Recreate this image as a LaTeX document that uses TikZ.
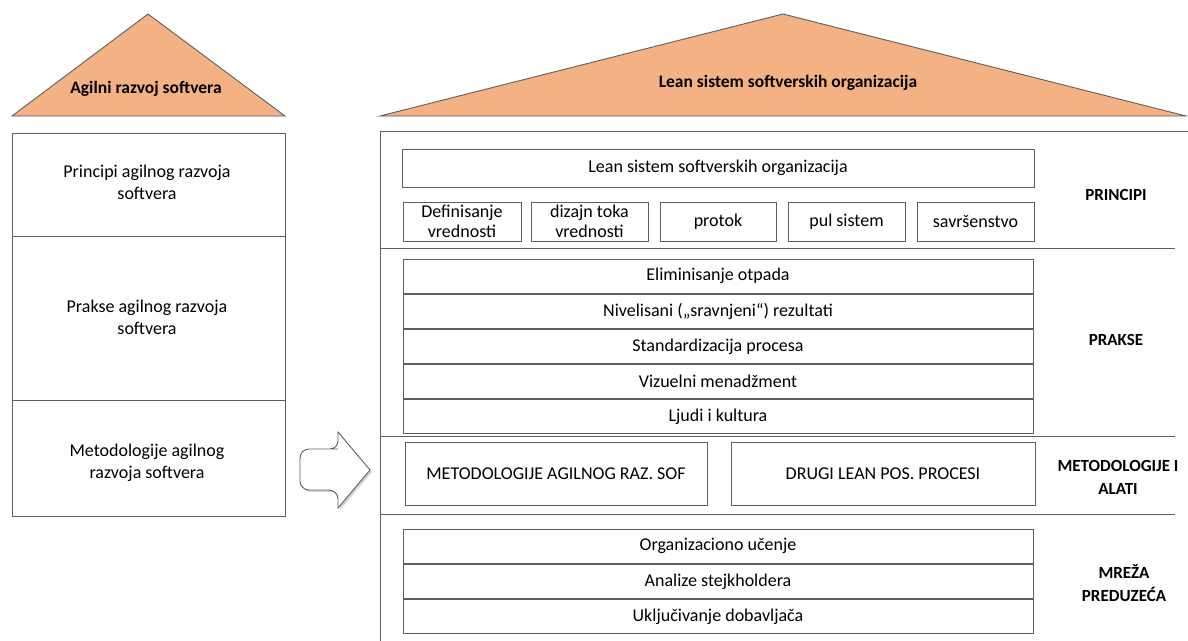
\documentclass[tikz,border=0pt]{standalone}
\usepackage{fontspec}
\setmainfont{Carlito}
\usetikzlibrary{shadows}
\definecolor{roof}{HTML}{F4B183}
\definecolor{ln}{HTML}{5E5E5E}
\tikzset{
  box/.style={draw=ln, line width=0.9pt, rectangle, inner sep=0pt, align=center, font=\fontsize{18}{20}\selectfont},
  roofstyle/.style={draw=ln, line width=0.9pt, fill=roof},
  rooftitle/.style={font=\fontsize{17.5}{20}\selectfont\bfseries, inner sep=0pt},
  sidelabel/.style={font=\fontsize{17}{23}\selectfont\bfseries, align=center, inner sep=0pt},
  ltext/.style={font=\fontsize{18}{22}\selectfont, align=center, inner sep=0pt},
  divider/.style={draw=ln, line width=0.9pt},
}
\begin{document}
\begin{tikzpicture}[x=1pt,y=-1pt]
\useasboundingbox (0,0) rectangle (1188,640);
% left house
\coordinate (la) at (148,14);
\coordinate (lb1) at (12,116);
\coordinate (lb2) at (285,116);
\draw[roofstyle] (lb1) -- (la) -- (lb2) -- cycle;
\node[rooftitle] (ltitle) at (146,89) {Agilni razvoj softvera};
\coordinate (lbox1) at (12,133);
\coordinate (lbox2) at (285,516);
\draw[divider] (lbox1) rectangle (lbox2);
\coordinate (ld1a) at (12,236); \coordinate (ld1b) at (285,236);
\coordinate (ld2a) at (12,400); \coordinate (ld2b) at (285,400);
\draw[divider] (ld1a) -- (ld1b);
\draw[divider] (ld2a) -- (ld2b);
\node[ltext] (lt1) at (147,182) {Principi agilnog razvoja\\softvera};
\node[ltext] (lt2) at (147,317) {Prakse agilnog razvoja\\softvera};
\node[ltext] (lt3) at (147,463) {Metodologije agilnog\\razvoja softvera};
% arrow
\draw[draw=ln, line width=0.9pt, fill=white, rounded corners=9pt,
      drop shadow={opacity=0.35, shadow xshift=2pt, shadow yshift=-2pt}]
  (338,449) -- (300,449) -- (300,490) -- (338,490)
  [sharp corners] -- (338,508) -- (370,470) -- (338,432) [rounded corners=8pt] -- (338,449) -- (320,449);
% right house
\coordinate (ra) at (783,14);
\coordinate (rb1) at (380,116);
\coordinate (rb2) at (1186,116);
\draw[roofstyle] (rb1) -- (ra) -- (rb2) -- cycle;
\node[rooftitle] (rtitle) at (788,83) {Lean sistem softverskih organizacija};
\coordinate (rbox1) at (380,131);
\coordinate (rbox2) at (1200,660);
\draw[divider] (rbox1) rectangle (rbox2);
% principi
\node[box, minimum width=632, minimum height=38] (lean) at (718,168) {Lean sistem softverskih organizacija};
\node[box, minimum width=118, minimum height=39] (p1) at (462,221.5) {Definisanje\\vrednosti};
\node[box, minimum width=117, minimum height=39] (p2) at (589.5,221.5) {dizajn toka\\vrednosti};
\node[box, minimum width=116, minimum height=39] (p3) at (718,221.5) {protok};
\node[box, minimum width=117, minimum height=39] (p4) at (846.5,221.5) {pul sistem};
\node[box, minimum width=117, minimum height=39] (p5) at (975.5,221.5) {savršenstvo};
\coordinate (d1a) at (380,248); \coordinate (d1b) at (1175,248);
\draw[divider] (d1a) -- (d1b);
\node[sidelabel] (lp) at (1116,195) {PRINCIPI};
% prakse
\node[box, minimum width=630, minimum height=34.2] (k1) at (718,276.1) {Eliminisanje otpada};
\node[box, minimum width=630, minimum height=34.2, anchor=north] (k2) at (k1.south) {Nivelisani („sravnjeni“) rezultati};
\node[box, minimum width=630, minimum height=34.2, anchor=north] (k3) at (k2.south) {Standardizacija procesa};
\node[box, minimum width=630, minimum height=34.2, anchor=north] (k4) at (k3.south) {Vizuelni menadžment};
\node[box, minimum width=630, minimum height=34.2, anchor=north] (k5) at (k4.south) {Ljudi i kultura};
\coordinate (d2a) at (380,436); \coordinate (d2b) at (1175,436);
\draw[divider] (d2a) -- (d2b);
\node[sidelabel] (lk) at (1116,340) {PRAKSE};
% metodologije
\node[box, minimum width=302, minimum height=63] (m1) at (556,473.5) {METODOLOGIJE AGILNOG RAZ. SOF};
\node[box, minimum width=304, minimum height=63] (m2) at (883,473.5) {DRUGI LEAN POS. PROCESI};
\coordinate (d3a) at (380,514); \coordinate (d3b) at (1175,514);
\draw[divider] (d3a) -- (d3b);
\node[sidelabel] (lm) at (1118,477) {METODOLOGIJE I\\ALATI};
\node[sidelabel] (ln) at (1124,583) {MREŽA\\PREDUZEĆA};
% mreza
\node[box, minimum width=630, minimum height=34.3] (n1) at (718,546.2) {Organizaciono učenje};
\node[box, minimum width=630, minimum height=34.3, anchor=north] (n2) at (n1.south) {Analize stejkholdera};
\node[box, minimum width=630, minimum height=34.3, anchor=north] (n3) at (n2.south) {Uključivanje dobavljača};
\end{tikzpicture}
\end{document}
